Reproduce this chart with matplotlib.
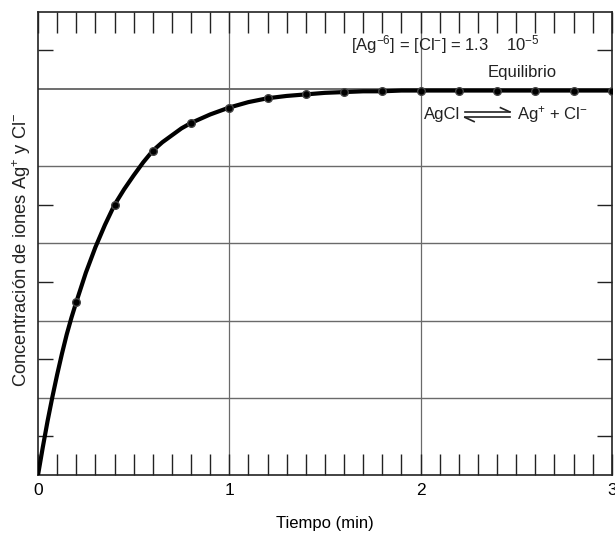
import matplotlib
matplotlib.use("Agg")
import matplotlib.pyplot as plt
from matplotlib.ticker import MultipleLocator, FixedLocator

plt.rcParams['font.family'] = ['Liberation Sans', 'DejaVu Sans']
plt.rcParams['mathtext.fontset'] = 'custom'
plt.rcParams['mathtext.rm'] = 'Liberation Sans'
plt.rcParams['mathtext.it'] = 'Liberation Sans'
plt.rcParams['mathtext.fallback'] = 'stixsans'

# curve (time in min, concentration in grid units)
t_curve = [0.0, 0.025, 0.05, 0.075, 0.1, 0.125, 0.15, 0.175, 0.2, 0.25, 0.3,
           0.35, 0.4, 0.45, 0.5, 0.55, 0.6, 0.65, 0.7, 0.75, 0.8, 0.9, 1.0,
           1.1, 1.2, 1.3, 1.4, 1.5, 1.6, 1.7, 1.8, 1.9, 2.0, 2.5, 3.0]
c_curve = [0.0, 0.36, 0.70, 1.01, 1.30, 1.57, 1.82, 2.04, 2.24, 2.62, 2.95,
           3.24, 3.50, 3.70, 3.88, 4.05, 4.20, 4.31, 4.40, 4.49, 4.56, 4.67,
           4.76, 4.83, 4.88, 4.91, 4.93, 4.95, 4.96, 4.97, 4.97, 4.98,
           4.98, 4.98, 4.98]

# dots on the curve
t_dots = [0.2, 0.4, 0.6, 0.8, 1.0, 1.2, 1.4, 1.6, 1.8, 2.0, 2.2, 2.4, 2.6, 2.8, 3.0]
c_dots = [2.24, 3.50, 4.20, 4.56, 4.76, 4.88, 4.93, 4.96, 4.97, 4.98, 4.98,
          4.98, 4.98, 4.98, 4.98]

x_ticks = [0, 1, 2, 3]
x_ticklabels = ["0", "1", "2", "3"]
equilibrium = 5.0

fig = plt.figure(figsize=(6.15, 5.35), dpi=100)
ax = fig.add_axes([0.0618, 0.112, 0.933, 0.866])
ax.set_xlim(0, 3)
ax.set_ylim(0, 6)

# grid
for y in [1, 2, 3, 4]:
    ax.axhline(y, color='#6a6a6a', lw=1.0, zorder=1)
ax.axhline(equilibrium, color='#555555', lw=1.2, zorder=1)
for x in [1, 2]:
    ax.axvline(x, color='#6a6a6a', lw=0.9, zorder=1)

ax.plot(t_curve, c_curve, color='black', lw=3.0, zorder=3, solid_capstyle='round',
        solid_joinstyle='round')
ax.plot(t_dots, c_dots, 'o', color='black', ms=5.5, mec='#444444', zorder=4)

ax.set_xticks(x_ticks)
ax.set_xticklabels(x_ticklabels)
ax.xaxis.set_minor_locator(MultipleLocator(0.1))
ax.set_yticks([])
ax.yaxis.set_minor_locator(FixedLocator([0.5, 1.5, 2.5, 3.5, 5.5]))

ax.tick_params(axis='x', which='both', direction='in', top=True, bottom=True,
               length=15, width=1.0, color='#222222', labelsize=12.5, pad=6)
ax.tick_params(axis='y', which='minor', direction='in', left=True, right=True,
               length=11, width=1.0, color='#222222')

for s in ax.spines.values():
    s.set_color('#222222')
    s.set_linewidth(1.2)

ax.set_xlabel("Tiempo (min)", fontsize=12, labelpad=13)
fig.text(22 / 615, 1 - 250 / 535, "Concentración de iones Ag$^{+}$ y Cl$^{-}$",
         fontsize=13.2, rotation=90, ha='center', va='center', color='#222222')

ax.text(2.13, 5.57, "[Ag$^{-6}$] = [Cl$^{-}$] = 1.3    10$^{-5}$", fontsize=12,
        ha='center', va='center', color='#222222')
ax.text(2.53, 5.21, "Equilibrio", fontsize=12, ha='center', va='center', color='#222222')

# AgCl <=> Ag+ + Cl-  (arrows drawn in axes-fraction coordinates)
tr = ax.transAxes
ax.text(0.735, 0.778, "AgCl", fontsize=12, ha='right', va='center',
        color='#222222', transform=tr)
ax.plot([0.744, 0.822], [0.784, 0.784], color='#222222', lw=1.2, transform=tr)
ax.plot([0.822, 0.806], [0.784, 0.793], color='#222222', lw=1.2, transform=tr)
ax.plot([0.744, 0.822], [0.772, 0.772], color='#222222', lw=1.2, transform=tr)
ax.plot([0.744, 0.760], [0.772, 0.763], color='#222222', lw=1.2, transform=tr)
ax.text(0.834, 0.778, "Ag$^{+}$ + Cl$^{-}$", fontsize=12, ha='left', va='center',
        color='#222222', transform=tr)

fig.savefig("out.png", dpi=100)
